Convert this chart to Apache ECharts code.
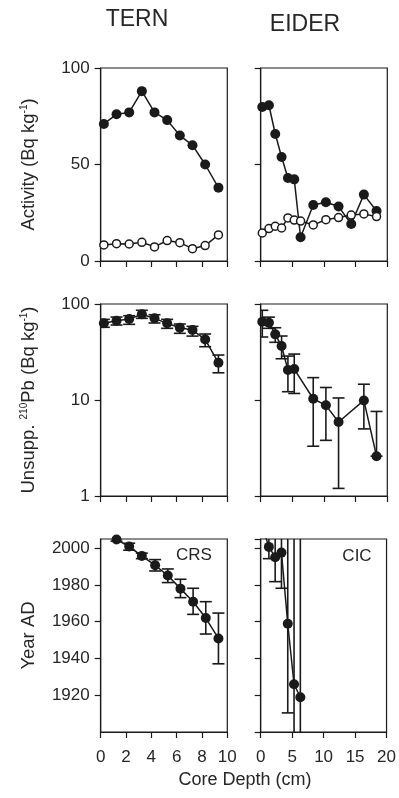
<!DOCTYPE html>
<html>
<head>
<meta charset="utf-8">
<script src="https://cdn.jsdelivr.net/npm/echarts@6/dist/echarts.min.js"></script>
<style>
  html, body { margin: 0; padding: 0; background: #fff; }
  #chart { width: 399px; height: 798px; }
</style>
</head>
<body>
<div id="chart"></div>
<script>
// Activity (top row)
const ternDepth = [0.25, 1.25, 2.25, 3.25, 4.25, 5.25, 6.25, 7.25, 8.25, 9.3];
const ternTotal = [71, 76, 77, 88, 77, 73, 65, 60, 50, 38];
const ternSupported = [8.3, 9, 8.8, 9.7, 7.3, 10.6, 9.5, 6.4, 8, 13.5];

const eiderDepth = [0.25, 1.3, 2.3, 3.3, 4.3, 5.3, 6.3, 8.3, 10.3, 12.3, 14.3, 16.3, 18.3];
const eiderTotal = [79.8, 80.7, 65.8, 53.9, 43, 42.3, 12.3, 29, 30.4, 28.2, 19.2, 34.4, 25.9];
const eiderSupported = [14.5, 16.8, 18, 17.1, 22.3, 21.2, 20.7, 18.7, 21.4, 22.5, 23.8, 24.4, 23];

// Unsupported 210Pb (middle row, log scale)
const ternPb = [62.9, 67, 69.7, 78, 70.9, 62.9, 56.6, 53.5, 42.8, 24.4];
const ternPbLo = [57.2, 60.4, 61.4, 70.9, 63.4, 55.8, 49.5, 46.3, 35.9, 19.2];
const ternPbHi = [69.2, 73.1, 75.5, 86, 77.3, 69.2, 61.9, 58.5, 48.7, 29.4];

const eiderPbDepth = [0.25, 1.3, 2.3, 3.3, 4.3, 5.3, 8.3, 10.3, 12.3, 16.3, 18.3];
const eiderPb = [65.4, 63.8, 48.3, 36.5, 20.5, 21, 10.3, 8.8, 5.9, 9.9, 2.6];
const eiderPbLo = [45.3, 55.8, 39.9, 26.9, 12.2, 11.7, 3.3, 3.8, 1.2, 5, 2.6];
const eiderPbHi = [86, 73, 56.6, 46.4, 28.7, 30.1, 17.1, 13.5, 10.5, 14.6, 7.6];

// Dates (bottom row)
const ternAgeDepth = [1.25, 2.25, 3.25, 4.3, 5.3, 6.3, 7.3, 8.3, 9.3];
const ternYear = [2004.7, 2000.9, 1995.8, 1990.7, 1985.1, 1978, 1970.9, 1962, 1950.9];
const ternYearLo = [2003.8, 1998.9, 1994.3, 1987.6, 1981.3, 1973.1, 1964, 1953.3, 1937.1];
const ternYearHi = [2005.5, 2002.7, 1997.3, 1993.8, 1988.7, 1983.1, 1978.2, 1970.9, 1964.7];

const eiderAgeDepth = [0.25, 1.3, 2.3, 3.3, 4.3, 5.3, 6.3];
const eiderYear = [2012, 2000.7, 1995.1, 1997.6, 1958.9, 1926, 1918.9];
const eiderYearLo = [2008, 1994.3, 1981.8, 1978.2, 1910.4, 1850, 1850];
const eiderYearHi = [2030, 2030, 2030, 2030, 2030, 2060, 2060];

const activityTicks = [0, 50, 100];
const yearTicks = [1920, 1940, 1960, 1980, 2000];

const ink = '#1a1a1a';
const textColor = '#262626';
const font = 'Liberation Sans, Arial, sans-serif';

const chart = echarts.init(document.getElementById('chart'));

const zip = (xs, ys) => xs.map((x, i) => [x, ys[i]]);
const zip3 = (xs, lo, hi) => xs.map((x, i) => [x, lo[i], hi[i]]);

function errorBars(idx, data) {
  return {
    type: 'custom',
    xAxisIndex: idx,
    yAxisIndex: idx,
    clip: true,
    silent: true,
    z: 1,
    data: data,
    encode: { x: 0, y: [1, 2] },
    renderItem: function (params, api) {
      const x = api.value(0);
      const lo = api.coord([x, api.value(1)]);
      const hi = api.coord([x, api.value(2)]);
      const w = 6;
      const st = { stroke: ink, lineWidth: 1.6 };
      return {
        type: 'group',
        children: [
          { type: 'line', shape: { x1: lo[0], y1: lo[1], x2: hi[0], y2: hi[1] }, style: st },
          { type: 'line', shape: { x1: lo[0] - w, y1: lo[1], x2: lo[0] + w, y2: lo[1] }, style: st },
          { type: 'line', shape: { x1: hi[0] - w, y1: hi[1], x2: hi[0] + w, y2: hi[1] }, style: st }
        ]
      };
    }
  };
}

function lineSeries(idx, data, filled, size) {
  return {
    type: 'line',
    xAxisIndex: idx,
    yAxisIndex: idx,
    data: data,
    clip: true,
    z: 3,
    symbol: 'circle',
    symbolSize: size,
    lineStyle: { color: ink, width: 1.5 },
    itemStyle: filled
      ? { color: ink, borderColor: ink, borderWidth: 0 }
      : { color: '#fff', borderColor: ink, borderWidth: 1.5 },
    animation: false
  };
}

const lefts = [100.7, 260.7];
const tops = [68, 304, 539];
const heights = [193, 192, 193];
const grids = [];
for (let r = 0; r < 3; r++) {
  for (let c = 0; c < 2; c++) {
    grids.push({
      left: lefts[c], top: tops[r], width: 126.6, height: heights[r],
      show: true, borderColor: ink, borderWidth: 1.2
    });
  }
}

const axisLine = { show: true, lineStyle: { color: ink, width: 1.2 } };
const axisTick = { show: true, inside: false, length: 6, lineStyle: { color: ink, width: 1.2 } };
const labelStyle = { color: textColor, fontSize: 17, fontFamily: font };

const xAxes = grids.map((g, i) => {
  const tern = i % 2 === 0;
  const bottom = i >= 4;
  return {
    type: 'value', gridIndex: i, min: 0, max: tern ? 10 : 20, interval: tern ? 2 : 5,
    axisLine: axisLine, axisTick: axisTick, splitLine: { show: false },
    axisLabel: Object.assign({ show: bottom, margin: 17 }, labelStyle)
  };
});

const supStyle = { fontSize: 10, fontFamily: font, color: textColor, verticalAlign: 'bottom', padding: [0, 0, 9, 0] };
const nameStyle = {
  color: textColor, fontSize: 18, fontFamily: font,
  rich: { sup: supStyle, n: { fontSize: 18.5, fontFamily: font, color: textColor } }
};

const yAxes = grids.map((g, i) => {
  const tern = i % 2 === 0;
  const row = Math.floor(i / 2);
  const base = {
    gridIndex: i,
    axisLine: axisLine, axisTick: axisTick, splitLine: { show: false },
    axisLabel: Object.assign({ show: tern, margin: 11 }, labelStyle),
    nameLocation: 'middle', nameTextStyle: nameStyle, nameGap: 62
  };
  if (row === 0) {
    Object.assign(base, { type: 'value', min: activityTicks[0], max: activityTicks[2], interval: 50 });
    if (tern) base.name = '{n|Activity (Bq kg}{sup|-1}{n|)}';
  } else if (row === 1) {
    Object.assign(base, { type: 'log', logBase: 10, min: 1, max: 100 });
    if (tern) base.name = '{n|Unsupp. }{sup|210}{n|Pb (Bq kg}{sup|-1}{n|)}';
  } else {
    Object.assign(base, {
      type: 'value', min: 1900, max: 2005, interval: 20
    });
    base.axisLabel.showMinLabel = false;
    base.axisLabel.showMaxLabel = false;
    base.axisLabel.formatter = v => (yearTicks.indexOf(v) >= 0 ? String(v) : '');
    if (tern) base.name = '{n|Year AD}';
  }
  return base;
});

const series = [
  lineSeries(0, zip(ternDepth, ternTotal), true, 10),
  lineSeries(0, zip(ternDepth, ternSupported), false, 8),
  lineSeries(1, zip(eiderDepth, eiderTotal), true, 10),
  lineSeries(1, zip(eiderDepth, eiderSupported), false, 8),

  errorBars(2, zip3(ternDepth, ternPbLo, ternPbHi)),
  lineSeries(2, zip(ternDepth, ternPb), true, 10),
  errorBars(3, zip3(eiderPbDepth, eiderPbLo, eiderPbHi)),
  lineSeries(3, zip(eiderPbDepth, eiderPb), true, 10),

  errorBars(4, zip3(ternAgeDepth, ternYearLo, ternYearHi)),
  lineSeries(4, zip(ternAgeDepth, ternYear), true, 10),
  errorBars(5, zip3(eiderAgeDepth, eiderYearLo, eiderYearHi)),
  lineSeries(5, zip(eiderAgeDepth, eiderYear), true, 10)
];

const txt = (x, y, s, size) => ({
  type: 'text', x: x, y: y,
  style: { text: s, fill: textColor, fontSize: size, fontFamily: font, align: 'center', verticalAlign: 'middle' }
});

chart.setOption({
  animation: false,
  backgroundColor: '#fff',
  grid: grids,
  xAxis: xAxes,
  yAxis: yAxes,
  series: series,
  graphic: [
    txt(137, 20, 'TERN', 23),
    txt(305, 25, 'EIDER', 23),
    txt(194, 555, 'CRS', 17),
    txt(357, 556, 'CIC', 17),
    txt(245, 780, 'Core Depth (cm)', 18)
  ]
});

window.addEventListener('resize', () => chart.resize());
</script>
</body>
</html>
